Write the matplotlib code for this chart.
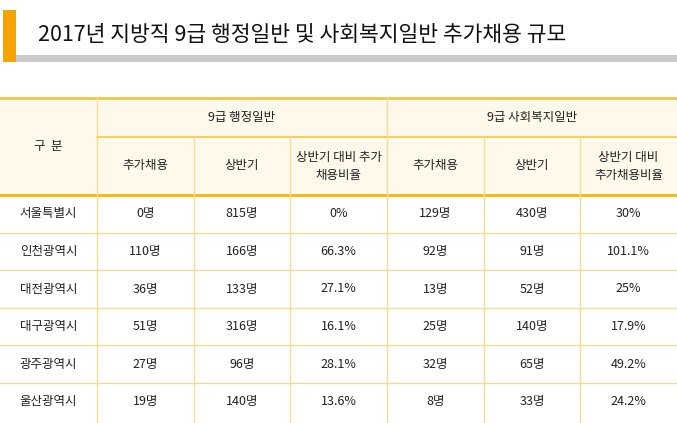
import matplotlib
matplotlib.use("Agg")
import matplotlib.pyplot as plt
from matplotlib.patches import Rectangle

plt.rcParams['font.family'] = ['Noto Sans CJK KR', 'DejaVu Sans']

title = "2017년 지방직 9급 행정일반 및 사회복지일반 추가채용 규모"
group_labels = ["9급 행정일반", "9급 사회복지일반"]
sub_labels = ["추가채용", "상반기", "상반기 대비 추가\n채용비율", "추가채용", "상반기", "상반기 대비\n추가채용비율"]
regions = ["서울특별시", "인천광역시", "대전광역시", "대구광역시", "광주광역시", "울산광역시"]
admin_extra = ["0명", "110명", "36명", "51명", "27명", "19명"]
admin_first = ["815명", "166명", "133명", "316명", "96명", "140명"]
admin_ratio = ["0%", "66.3%", "27.1%", "16.1%", "28.1%", "13.6%"]
welfare_extra = ["129명", "92명", "13명", "25명", "32명", "8명"]
welfare_first = ["430명", "91명", "52명", "140명", "65명", "33명"]
welfare_ratio = ["30%", "101.1%", "25%", "17.9%", "49.2%", "24.2%"]

W, H = 677, 423
fig = plt.figure(figsize=(W/100, H/100), dpi=100)
ax = fig.add_axes([0, 0, 1, 1])
ax.set_xlim(0, W); ax.set_ylim(H, 0); ax.axis('off')

# title block
ax.add_patch(Rectangle((3, 10), 13, 52, color='#f5a300', lw=0))
ax.add_patch(Rectangle((16, 55), W-16, 7, color='#cccccc', lw=0))
ax.text(38, 35, title, fontsize=15.5, va='center', ha='left', color='#111111')

xs = [0, 97, 194, 290, 387, 484, 580, 677]
top, h1, h2 = 98, 137, 195
rowh = 37.6
line_c = '#f3dc9a'

ax.add_patch(Rectangle((0, top), W, h2-top, color='#fef9ea', lw=0))
ax.plot([0, W], [top, top], color='#f5c842', lw=2)
ax.plot([97, W], [h1, h1], color='#f5c842', lw=1.2)
ax.plot([0, W], [h2, h2], color='#f5b800', lw=2)
for x in xs[1:-1]:
    y0 = top if x in (97, 387) else h1
    ax.plot([x, x], [y0, H], color=line_c, lw=1)
for i in range(1, len(regions)):
    y = h2 + i*rowh
    ax.plot([0, W], [y, y], color=line_c, lw=1)

fs = 9
ax.text(48.5, (top+h2)/2, "구  분", fontsize=fs, ha='center', va='center', color='#222')
ax.text((97+387)/2, (top+h1)/2, group_labels[0], fontsize=fs, ha='center', va='center', color='#222')
ax.text((387+677)/2, (top+h1)/2, group_labels[1], fontsize=fs, ha='center', va='center', color='#222')
for j, lab in enumerate(sub_labels):
    ax.text((xs[j+1]+xs[j+2])/2, (h1+h2)/2, lab, fontsize=fs, ha='center', va='center',
            color='#222', linespacing=1.5)

cols = [regions, admin_extra, admin_first, admin_ratio, welfare_extra, welfare_first, welfare_ratio]
for i in range(len(regions)):
    yc = h2 + (i+0.5)*rowh
    for j, col in enumerate(cols):
        ax.text((xs[j]+xs[j+1])/2, yc, col[i], fontsize=fs, ha='center', va='center', color='#222')

fig.savefig("out.png", dpi=100)
